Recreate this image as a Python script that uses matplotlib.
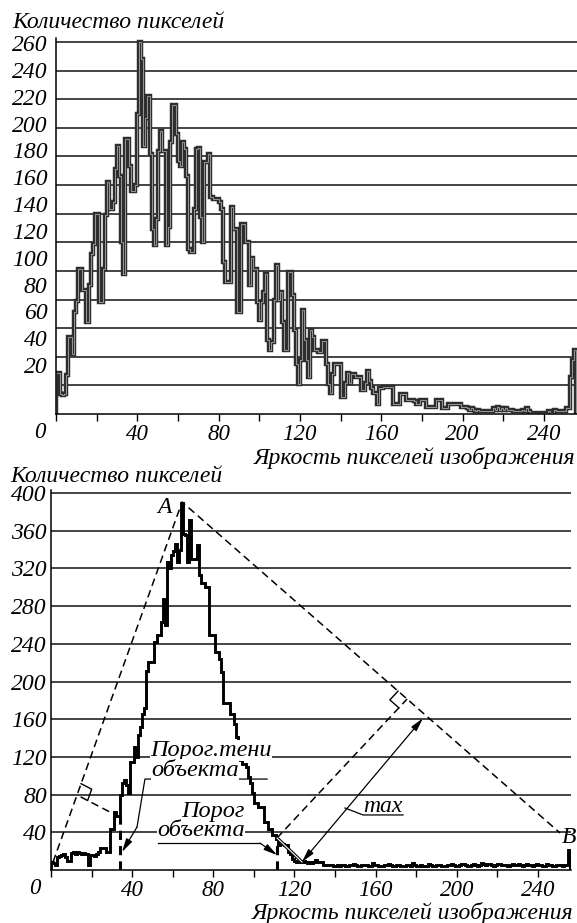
import numpy as np
import matplotlib.pyplot as plt

plt.rcParams['font.family'] = ['Liberation Serif', 'DejaVu Serif']
plt.rcParams['font.style'] = 'italic'

# brightness histogram, upper chart (one value per brightness level 0..255)
top_counts = [
    29, 29, 14, 13, 14, 27, 54, 54, 42, 71, 79, 101, 101, 87, 87, 64,
    90, 112, 119, 140, 140, 78, 78, 101, 139, 162, 143, 143, 148, 171, 187, 166,
    120, 98, 192, 192, 173, 156, 156, 160, 210, 260, 248, 187, 207, 222, 182, 129,
    118, 136, 184, 198, 184, 184, 118, 131, 190, 216, 216, 196, 177, 173, 190, 185,
    166, 115, 113, 113, 143, 185, 186, 138, 120, 176, 176, 182, 152, 150, 150, 150,
    148, 143, 106, 92, 92, 92, 145, 129, 129, 71, 71, 133, 133, 120, 120, 90,
    109, 101, 101, 78, 66, 78, 85, 98, 52, 45, 50, 80, 104, 80, 85, 64,
    45, 45, 99, 99, 83, 59, 35, 21, 38, 73, 52, 38, 26, 59, 54, 45,
    45, 43, 43, 51, 51, 35, 21, 15, 28, 35, 35, 35, 12, 12, 22, 29,
    22, 28, 28, 26, 26, 26, 17, 17, 22, 30, 23, 18, 15, 15, 7, 18,
    18, 19, 19, 19, 19, 19, 7, 7, 7, 14, 14, 14, 10, 10, 10, 10,
    9, 7, 7, 10, 10, 10, 5, 5, 5, 5, 5, 10, 10, 10, 4, 4,
    4, 7, 7, 7, 7, 7, 7, 5, 5, 5, 4, 3, 4, 3, 2, 3,
    2, 2, 2, 2, 2, 2, 2, 4, 3, 5, 3, 4, 3, 4, 3, 3,
    3, 2, 2, 2, 2, 3, 2, 4, 2, 1, 1, 1, 1, 1, 1, 1,
    1, 1, 2, 1, 1, 3, 2, 2, 2, 2, 2, 4, 4, 26, 38, 45,
]

# brightness histogram, lower chart
bot_counts = [
    9, 7, 5, 14, 15, 16, 17, 14, 10, 10, 18, 19, 17, 19, 18, 17,
    18, 17, 5, 16, 16, 15, 17, 19, 23, 23, 23, 19, 19, 44, 44, 62,
    57, 57, 80, 92, 96, 90, 82, 115, 115, 131, 120, 143, 152, 165, 172, 211,
    221, 221, 221, 242, 249, 249, 263, 288, 260, 327, 320, 334, 339, 346, 327, 340,
    389, 357, 355, 327, 371, 330, 330, 330, 345, 313, 304, 304, 300, 300, 249, 249,
    249, 231, 231, 224, 210, 177, 177, 177, 166, 166, 155, 141, 117, 117, 113, 113,
    109, 99, 92, 82, 71, 71, 67, 67, 67, 51, 51, 44, 44, 37, 37, 33,
    26, 28, 28, 26, 26, 19, 17, 12, 10, 9, 9, 9, 10, 8, 7, 9,
    7, 8, 11, 8, 8, 8, 5, 5, 5, 5, 5, 4, 4, 5, 4, 5,
    5, 4, 4, 5, 5, 6, 5, 4, 4, 5, 5, 5, 4, 4, 7, 5,
    5, 4, 4, 4, 5, 5, 6, 5, 4, 4, 5, 5, 4, 4, 4, 5,
    5, 4, 7, 5, 4, 4, 5, 4, 4, 4, 6, 5, 4, 4, 5, 5,
    4, 4, 4, 5, 5, 6, 5, 4, 4, 5, 6, 6, 5, 4, 4, 5,
    6, 5, 4, 5, 7, 6, 5, 6, 6, 5, 4, 5, 6, 6, 5, 5,
    5, 4, 5, 6, 5, 5, 6, 5, 4, 5, 6, 5, 5, 4, 5, 6,
    5, 5, 4, 4, 6, 5, 5, 4, 4, 5, 5, 5, 4, 5, 5, 21,
]

top_yticks = list(range(20, 261, 20))
bot_yticks = list(range(40, 401, 40))
xticks = list(range(0, 241, 20))

# construction points of the lower chart (brightness, count)
pt_A = (64.6, 390.5)
pt_left = (1.0, 8.5)
pt_B = (250.9, 39.3)
shadow_thr = (34.0, 56.0)
shadow_foot = (12.8, 79.6)
obj_thr = (111.4, 34.0)
obj_foot = (175.5, 181.4)
max_tail = (123.7, 8.5)
max_head = (183.3, 161.0)

edges = np.arange(len(top_counts) + 1)
FS = 17
FS_TICK = 16.5
FS_NOTE = 17.5

fig = plt.figure(figsize=(5.77, 9.23), dpi=100)
W, H = 577.0, 923.0


def style_axes(ax, yticks):
    for s in ('top', 'right'):
        ax.spines[s].set_visible(False)
    for s in ('left', 'bottom'):
        ax.spines[s].set_linewidth(1.1)
    ax.set_yticks(yticks)
    ax.grid(axis='y', color='#111111', lw=1.1)
    ax.set_axisbelow(True)
    ax.set_xticks(xticks)
    ax.set_xticklabels(['' if (t % 40 or t == 0) else str(t) for t in xticks], fontsize=FS_TICK)
    ax.tick_params(axis='x', direction='out', length=5, width=1)
    ax.annotate('0', xy=(0, 0), xycoords=('data', 'axes fraction'),
                xytext=(-11.5, -6), textcoords='offset points',
                ha='center', va='top', fontsize=FS_TICK)


# ---- upper chart
ax1 = fig.add_axes([56 / W, 1 - 414 / H, 521 / W, 376 / H])
ax1.stairs(top_counts, edges, color='#2e2e2e', lw=3.2)
ax1.stairs(top_counts, edges, color='#a8a8a8', lw=0.6)
ax1.set_xlim(0, 256.3)
ax1.set_ylim(0, 262.8)
style_axes(ax1, top_yticks)
ax1.tick_params(axis='y', length=0, labelleft=False)
ax1.tick_params(axis='x', pad=2.5)

# the value column on the left is typeset a bit tighter than the grid
sec = ax1.secondary_yaxis('left', functions=(lambda p: 20 + (p - 34.2) / 0.938,
                                              lambda s: 34.2 + (s - 20) * 0.938))
sec.set_yticks(top_yticks)
sec.set_yticklabels([str(t) for t in top_yticks], fontsize=FS)
sec.spines['left'].set_visible(False)
sec.tick_params(length=0, pad=6)

fig.text(12 / W, 1 - 23 / H, 'Количество пикселей', fontsize=FS, ha='left', va='center')
fig.text(575 / W, 1 - 458 / H, 'Яркость пикселей изображения', fontsize=FS,
         ha='right', va='center')

# ---- lower chart
ax2 = fig.add_axes([51 / W, 1 - 870 / H, 520.4 / W, 380 / H])
ax2.set_xlim(0, 256.5)
ax2.set_ylim(0, 403.2)
style_axes(ax2, bot_yticks)
ax2.set_yticklabels([str(t) for t in bot_yticks], fontsize=FS)
ax2.tick_params(axis='y', length=0, pad=3)
ax2.tick_params(axis='x', pad=2)
ax2.stairs(bot_counts, edges, color='black', lw=2.1, zorder=3)

fig.text(10 / W, 1 - 476 / H, 'Количество пикселей', fontsize=FS, ha='left', va='center')
fig.text(573 / W, 1 - 913 / H, 'Яркость пикселей изображения', fontsize=FS,
         ha='right', va='center')

dash = dict(color='black', lw=1.1, ls=(0, (5, 3)), zorder=4)
ax2.plot([pt_left[0], pt_A[0], pt_B[0]], [pt_left[1], pt_A[1], pt_B[1]], **dash)
ax2.plot([shadow_thr[0], shadow_foot[0]], [shadow_thr[1], shadow_foot[1]], **dash)
ax2.plot([obj_thr[0], obj_foot[0]], [obj_thr[1], obj_foot[1]], **dash)
# threshold markers
thick = dict(color='black', lw=2.2, ls=(0, (3, 2)), zorder=5)
ax2.plot([shadow_thr[0], shadow_thr[0]], [0, shadow_thr[1]], **thick)
ax2.plot([obj_thr[0], obj_thr[0]], [0, obj_thr[1]], **thick)

ax2.text(pt_A[0] - 5, pt_A[1] - 6, 'A', fontsize=FS, ha='right', va='center')
ax2.text(pt_B[0] + 1, pt_B[1] - 5, 'B', fontsize=FS, ha='left', va='center')


def right_angle(ax, foot, p1, p2, size=12):
    T = ax.transData
    f = T.transform(foot)
    a = T.transform(p1)
    b = T.transform(p2)
    u = (a - f) / np.linalg.norm(a - f) * size
    w = (b - f) / np.linalg.norm(b - f) * size
    pts = T.inverted().transform(np.array([f + u, f + u + w, f + w]))
    ax.plot(pts[:, 0], pts[:, 1], color='black', lw=1.0, zorder=5)


right_angle(ax2, shadow_foot, pt_A, shadow_thr)
right_angle(ax2, obj_foot, pt_A, obj_thr)

# max distance arrow
ax2.plot([obj_thr[0], max_tail[0]], [obj_thr[1], max_tail[1]], color='black', lw=2.4, zorder=5)
ax2.plot([obj_thr[0], max_tail[0]], [obj_thr[1], max_tail[1]], color='white', lw=0.8, zorder=6)
ax2.annotate('', xy=max_head, xytext=max_tail,
             arrowprops=dict(arrowstyle='<|-|>,head_length=0.8,head_width=0.2',
                             color='black', lw=0.9, shrinkA=0, shrinkB=0), zorder=6)
ax2.text(163.6, 67.5, 'max', fontsize=FS, ha='center', va='center', zorder=6)
ax2.plot([144.9, 153.8, 173.5], [65.8, 58.4, 58.4], color='black', lw=0.9, zorder=6)

box = dict(facecolor='white', edgecolor='none', pad=0.2)
ax2.text(79.0, 126.8, 'Порог.тени', fontsize=FS_NOTE, ha='center', va='center', bbox=box, zorder=6)
ax2.text(71.0, 106.0, 'объекта', fontsize=FS_NOTE, ha='center', va='center', bbox=box, zorder=7)
ax2.plot([106.5, 46.3, 42.4], [96.5, 96.5, 45.6], color='black', lw=0.9, zorder=6)
ax2.annotate('', xy=(35.0, 19.1), xytext=(42.4, 45.6),
             arrowprops=dict(arrowstyle='-|>,head_length=0.8,head_width=0.2',
                             color='black', lw=0.9, shrinkA=0, shrinkB=0), zorder=6)

ax2.text(79.8, 62.5, 'Порог', fontsize=FS_NOTE, ha='center', va='center', bbox=box, zorder=7)
ax2.text(74.0, 41.5, 'объекта', fontsize=FS_NOTE, ha='center', va='center', bbox=box, zorder=6)
ax2.plot([52.7, 103.0], [28.6, 28.6], color='black', lw=0.9, zorder=6)
ax2.annotate('', xy=(111.4, 15.9), xytext=(103.0, 28.6),
             arrowprops=dict(arrowstyle='-|>,head_length=0.8,head_width=0.2',
                             color='black', lw=0.9, shrinkA=0, shrinkB=0), zorder=6)

fig.savefig('out.png', dpi=100)
